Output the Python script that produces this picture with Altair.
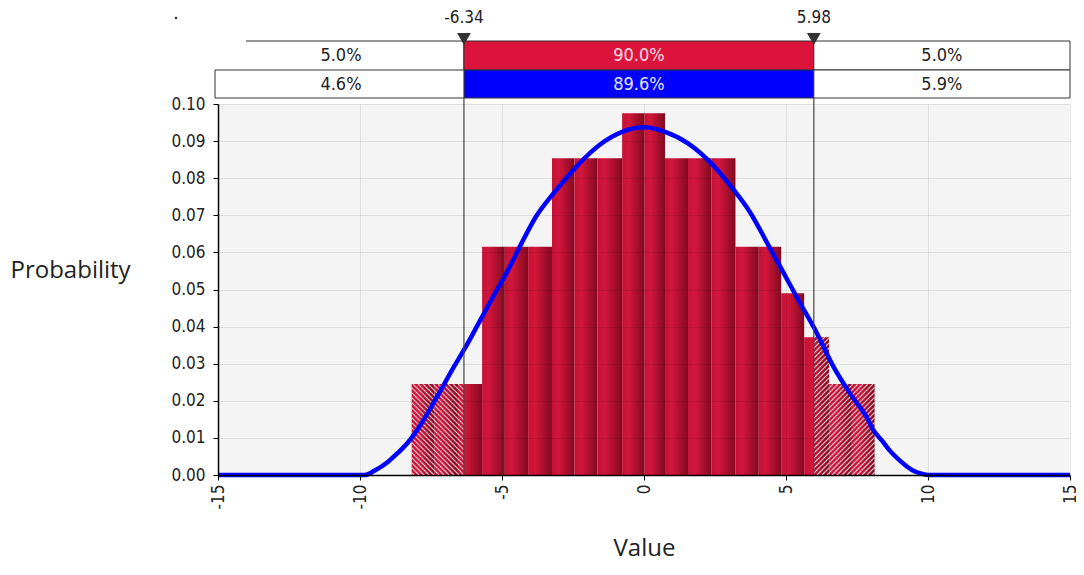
import altair as alt
import pandas as pd

# ---------------- data ----------------
bin_edges = [-8.18, -7.37, -6.55, -5.70, -4.90, -4.08, -3.24, -2.45, -1.64, -0.77,
             0.01, 0.74, 1.55, 2.37, 3.22, 4.04, 4.83, 5.64, 6.52, 7.32, 8.12]
bin_probs = [0.0245, 0.0245, 0.0245, 0.0615, 0.0615, 0.0615, 0.0854, 0.0854, 0.0854, 0.0975,
             0.0975, 0.0854, 0.0854, 0.0854, 0.0615, 0.0615, 0.0490, 0.0371, 0.0245, 0.0245]

curve_x = [-15.0, -9.83, -9.48, -9.01, -8.66, -8.32, -7.97, -7.27, -6.69, -6.34,
           -5.76, -5.18, -4.83, -4.31, -3.79, -3.21, -2.74, -2.39, -2.16, -1.58,
           -0.77, 0.01, 0.74, 1.55, 2.37, 3.07, 3.76, 4.34, 4.92, 5.50,
           6.03, 6.67, 7.25, 7.83, 8.06, 8.41, 8.64, 8.99, 9.45, 9.80, 10.0, 15.0]
curve_y = [0.0, 0.0, 0.0012, 0.0036, 0.0060, 0.0087, 0.0123, 0.0213, 0.0292, 0.0337,
           0.0418, 0.0499, 0.0546, 0.0625, 0.0698, 0.0757, 0.0800, 0.0830, 0.0849, 0.0889,
           0.0925, 0.0937, 0.0925, 0.0894, 0.0840, 0.0777, 0.0705, 0.0625, 0.0544, 0.0463,
           0.0391, 0.0292, 0.0220, 0.0157, 0.0123, 0.0090, 0.0067, 0.0040, 0.0013, 0.0003, 0.0, 0.0]

cut_low = -6.34
cut_high = 5.98
cut_labels = ["-6.34", "5.98"]
pct_fit = ["5.0%", "90.0%", "5.0%"]       # red row
pct_sample = ["4.6%", "89.6%", "5.9%"]    # blue row

x_ticks = [-15, -10, -5, 0, 5, 10, 15]
y_ticks = [0.00, 0.01, 0.02, 0.03, 0.04, 0.05, 0.06, 0.07, 0.08, 0.09, 0.10]
x_min, x_max = -15, 15
y_max = 0.10

# ---------------- layout ----------------
W, H = 852, 371
TICK_FONT = "DejaVu Sans Condensed, DejaVu Sans"
TITLE_FONT = "Open Sans"
TXT = "#222222"

def px(x):
    return (x - x_min) / (x_max - x_min) * W

def py(y):
    return H * (1 - y / y_max)

def dx(p):
    return p / W * (x_max - x_min) + x_min

def dy(p):
    return (1 - p / H) * y_max

bars_df = pd.DataFrame({"x0": bin_edges[:-1], "x1": bin_edges[1:], "p": bin_probs})
curve_df = pd.DataFrame({"x": curve_x, "y": curve_y})

# hatch lines over the tails (derived from the bars and the cut values)
hatch = []
step = 5.0
for side in ("left", "right"):
    for s, e, h in zip(bin_edges[:-1], bin_edges[1:], bin_probs):
        if side == "left":
            a, b = s, min(e, cut_low)
        else:
            a, b = max(s, cut_high), e
        if b <= a:
            continue
        X0, X1, Y0, Y1 = px(a), px(b), py(h), py(0)
        if side == "left":
            c = -2000.0
            while c < 2000:
                xa, xb = max(X0, Y0 + c), min(X1, Y1 + c)
                if xb - xa > 0.3:
                    hatch.append({"x": dx(xa), "y": dy(xa - c), "x2": dx(xb), "y2": dy(xb - c)})
                c += step
        else:
            c = 0.0
            while c < 3000:
                xa, xb = max(X0, c - Y1), min(X1, c - Y0)
                if xb - xa > 0.3:
                    hatch.append({"x": dx(xa), "y": dy(c - xa), "x2": dx(xb), "y2": dy(c - xb)})
                c += step
hatch_df = pd.DataFrame(hatch)

xscale = alt.Scale(domain=[x_min, x_max], nice=False, zero=False)
yscale = alt.Scale(domain=[0, y_max], nice=False, zero=False)

xaxis = alt.Axis(values=x_ticks, labelExpr="'' + datum.value", labelAngle=-90,
                 labelPadding=4, labelFlush=False, labelOverlap=False,
                 labelFont=TICK_FONT, labelFontSize=17, labelColor=TXT,
                 tickSize=5, tickColor="#000", domainColor="#000", domainWidth=1.5,
                 grid=True, gridColor="#000", gridOpacity=0.09,
                 title="Value", titleFont=TITLE_FONT, titleFontSize=24, titleFontWeight="normal",
                 titleColor=TXT, titleY=80, titleBaseline="alphabetic", zindex=1)
yaxis = alt.Axis(values=y_ticks, format=".2f", labelPadding=8, labelOverlap=False,
                 labelFont=TICK_FONT, labelFontSize=17, labelColor=TXT,
                 tickSize=5, tickColor="#000", domainColor="#000", domainWidth=1.5,
                 grid=True, gridColor="#000", gridOpacity=0.09,
                 title="Probability", titleFont=TITLE_FONT, titleFontSize=24,
                 titleFontWeight="normal", titleColor=TXT, titleAngle=0,
                 titleAlign="left", titleBaseline="middle", titleX=-208, titleY=166, zindex=1)


def X(field):
    return alt.X(field, type="quantitative", scale=xscale, axis=xaxis)


def Y(field):
    return alt.Y(field, type="quantitative", scale=yscale, axis=yaxis)


grad = alt.Gradient(gradient="linear",
                    stops=[alt.GradientStop(offset=0, color="#C41237"),
                           alt.GradientStop(offset=0.3, color="#D3163C"),
                           alt.GradientStop(offset=1, color="#820A20")],
                    x1=0, x2=1, y1=0, y2=0)

bars = alt.Chart(bars_df).mark_rect(fill=grad, strokeWidth=0).encode(
    x=X("x0"), x2="x1:Q", y=Y("p"), y2=alt.datum(0))

hatch_layer = alt.Chart(hatch_df).mark_rule(color="#FFFFFF", strokeWidth=1.1, opacity=0.8).encode(
    x=X("x"), x2="x2:Q", y=Y("y"), y2="y2:Q")

curve = alt.Chart(curve_df).mark_line(color="#0000FF", strokeWidth=4.5,
                                      interpolate="monotone").encode(x=X("x"), y=Y("y"))

cuts_df = pd.DataFrame({"x": [cut_low, cut_high], "label": cut_labels})
cut_lines = alt.Chart(cuts_df).mark_rule(color="#444444", strokeWidth=1.2).encode(
    x=X("x"), y=alt.value(-63), y2=alt.value(H))

mid_df = pd.DataFrame({"lo": [cut_low], "hi": [cut_high]})
red_box = alt.Chart(mid_df).mark_rect(fill="#DC143C", stroke="#333333", strokeWidth=1).encode(
    x=X("lo"), x2="hi:Q", y=alt.value(-63), y2=alt.value(-34))
blue_box = alt.Chart(mid_df).mark_rect(fill="#0000FF", stroke="#333333", strokeWidth=1).encode(
    x=X("lo"), x2="hi:Q", y=alt.value(-34), y2=alt.value(-6))
left_box = alt.Chart(mid_df).mark_rect(fill="#FFFFFF", stroke="#333333", strokeWidth=1).encode(
    x=X("lo"), x2=alt.value(-3), y=alt.value(-34), y2=alt.value(-6))
left_line = alt.Chart(mid_df).mark_rule(color="#333333", strokeWidth=1.2).encode(
    x=X("lo"), x2=alt.value(28), y=alt.value(-63))
right_top = alt.Chart(mid_df).mark_rect(fill="#FFFFFF", stroke="#333333", strokeWidth=1).encode(
    x=X("hi"), x2=alt.value(W), y=alt.value(-63), y2=alt.value(-34))
right_bot = alt.Chart(mid_df).mark_rect(fill="#FFFFFF", stroke="#333333", strokeWidth=1).encode(
    x=X("hi"), x2=alt.value(W), y=alt.value(-34), y2=alt.value(-6))

centers = [(x_min + cut_low) / 2, (cut_low + cut_high) / 2, (cut_high + x_max) / 2]
pct_df = pd.DataFrame({
    "x": centers + centers,
    "py": [-48] * 3 + [-19] * 3,
    "label": pct_fit + pct_sample,
    "col": [TXT, "#F6DDE2", TXT, TXT, "#E4E6FF", TXT],
})
pct_text = alt.Chart(pct_df).mark_text(font=TICK_FONT, fontSize=18, baseline="middle").encode(
    x=X("x"), y=alt.Y("py:Q", scale=None), text="label:N", color=alt.Color("col:N", scale=None))

cut_text = alt.Chart(cuts_df).mark_text(font=TICK_FONT, fontSize=17, baseline="middle", color=TXT).encode(
    x=X("x"), y=alt.value(-86), text="label:N")
markers = alt.Chart(cuts_df).mark_point(shape="triangle-down", filled=True, size=190,
                                        color="#333333", opacity=1).encode(
    x=X("x"), y=alt.value(-65))

dot = alt.Chart(mid_df).mark_point(shape="square", filled=True, size=5, color="#333333", opacity=1).encode(
    x=alt.value(-42), y=alt.value(-86))

chart = alt.layer(
    bars, hatch_layer, curve, cut_lines,
    left_line, red_box, blue_box, left_box, right_top, right_bot,
    pct_text, cut_text, markers, dot,
).properties(
    width=W, height=H,
    padding={"left": 210, "top": 96, "right": 6, "bottom": 86},
    autosize=alt.AutoSizeParams(type="none"),
).configure_view(fill="#F4F4F4", strokeWidth=0)

chart.save("out.html", embed_options={"renderer": "svg", "actions": False})
